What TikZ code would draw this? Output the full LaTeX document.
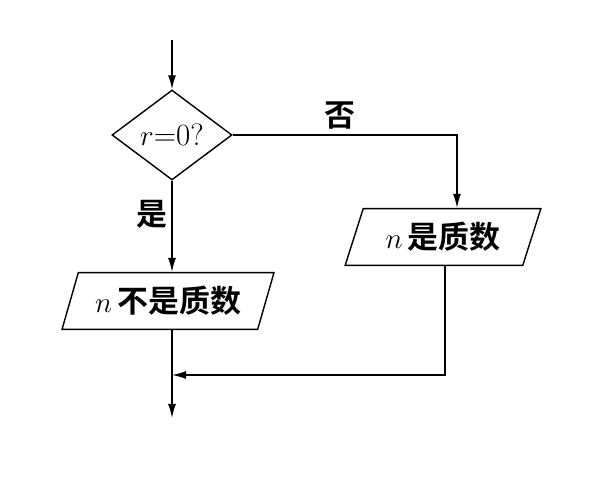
\documentclass[tikz,border=0pt]{standalone}
\usepackage{fontspec}
\newfontfamily\cjk{Noto Sans CJK SC Bold}
\usetikzlibrary{shapes.geometric}
\usetikzlibrary{arrows.meta}
\tikzstyle{decision}=[diamond,draw=black,line width=1pt,minimum width=3cm,minimum height=2.25cm,inner sep=0pt,font=\fontsize{22}{26}\selectfont]
\tikzstyle{io}=[trapezium,trapezium left angle=70,trapezium right angle=110,trapezium stretches=true,draw=black,line width=1pt,minimum height=1.42cm,font=\fontsize{22}{26}\selectfont\cjk]
\tikzstyle{flow}=[-{Latex[length=3.5mm,width=2mm]},draw=black,line width=1pt]
\tikzstyle{lbl}=[font=\fontsize{22}{26}\selectfont\cjk]

\begin{document}
\begin{tikzpicture}
	\useasboundingbox (0,0) rectangle (15,12);
	\node [style=decision] (0) at (4.3, 8.625) {$r$=0?};
	\node [style=io, minimum width=5.3cm] (1) at (4.2, 4.475) {$n$\,不是质数};
	\node [style=io, minimum width=4.9cm] (2) at (11.075, 6.075) {$n$\,是质数};
	\coordinate (3) at (4.3, 11.0);
	\coordinate (4) at (11.425, 8.625);
	\coordinate (5) at (11.125, 2.625);
	\coordinate (6) at (4.3, 2.625);
	\coordinate (7) at (4.3, 1.55);
	\node [style=lbl] (8) at (8.5, 9.1) {否};
	\node [style=lbl] (9) at (3.8, 6.65) {是};
	\draw [style=flow] (3) to (0.north);
	\draw [style=flow] (0.east) -- (4) -- (4 |- 2.north);
	\draw [style=flow] (0.south) to (0.south |- 1.north);
	\draw [style=flow] (5 |- 2.south) -- (5) -- (6);
	\draw [style=flow] (0.south |- 1.south) to (7);
\end{tikzpicture}
\end{document}
